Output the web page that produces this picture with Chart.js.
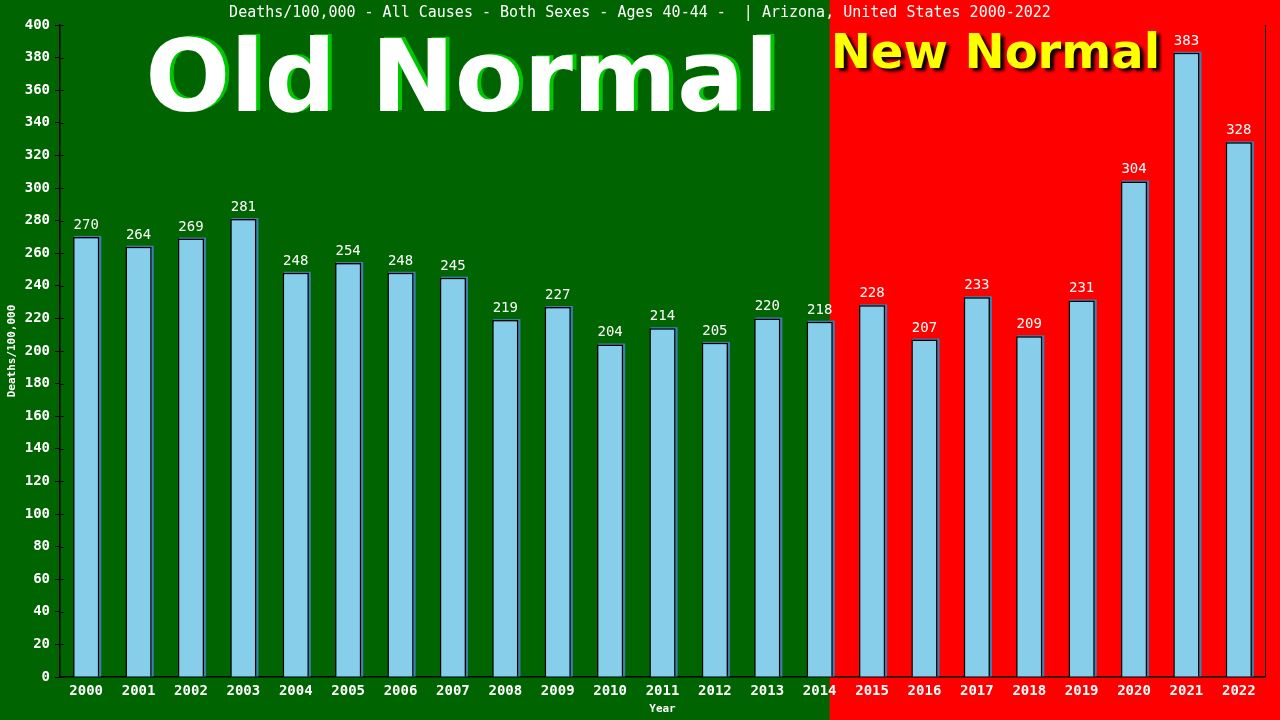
<!DOCTYPE html>
<html>
<head>
<meta charset="utf-8">
<script src="https://cdn.jsdelivr.net/npm/chart.js@4"></script>
<style>
  html, body { margin: 0; padding: 0; background: #006400; }
  #wrap { width: 1280px; height: 720px; }
</style>
</head>
<body>
<div id="wrap"><canvas id="chart" width="1280" height="720"></canvas></div>
<script>
const years = ["2000","2001","2002","2003","2004","2005","2006","2007","2008","2009","2010","2011",
  "2012","2013","2014","2015","2016","2017","2018","2019","2020","2021","2022"];
const deaths = [270,264,269,281,248,254,248,245,219,227,204,214,205,220,218,228,207,233,209,231,304,383,328];
const titleText = "Deaths/100,000 - All Causes - Both Sexes - Ages 40-44 -  | Arizona, United States 2000-2022";
const yMin = 0, yMax = 400, yStep = 20;
const newNormalFrom = 14; // index where the red zone begins (part way through 2014)

const mono = "'DejaVu Sans Mono', monospace";

const backdrop = {
  id: "backdrop",
  beforeDraw(chart) {
    const { ctx, width, height } = chart;
    const x = chart.scales.x;
    const split = x.getPixelForValue(newNormalFrom) + 10;
    ctx.save();
    ctx.fillStyle = "#006400";
    ctx.fillRect(0, 0, width, height);
    ctx.fillStyle = "#ff0000";
    ctx.fillRect(split, 0, width - split, height);

    // title
    ctx.fillStyle = "#ffffff";
    ctx.font = "15px " + mono;
    ctx.textAlign = "center";
    ctx.textBaseline = "middle";
    ctx.fillText(titleText, 640, 13);

    // Old Normal
    ctx.font = "bold 100px 'DejaVu Sans', sans-serif";
    ctx.textAlign = "center";
    ctx.textBaseline = "alphabetic";
    ctx.fillStyle = "#00c800";
    ctx.fillText("Old Normal", 466, 110);
    ctx.fillStyle = "#ffffff";
    ctx.fillText("Old Normal", 462, 111);

    // New Normal
    ctx.font = "bold 48px 'DejaVu Sans', sans-serif";
    ctx.textAlign = "left";
    ctx.shadowColor = "rgba(0,0,0,0.95)";
    ctx.shadowBlur = 3;
    ctx.shadowOffsetX = 4;
    ctx.shadowOffsetY = 3;
    ctx.fillStyle = "#ffff00";
    ctx.fillText("New Normal", split + 1, 68);
    ctx.restore();
  },
  beforeDatasetsDraw(chart) {
    // steel-blue offset edge behind each bar
    const { ctx } = chart;
    const meta = chart.getDatasetMeta(0);
    ctx.save();
    ctx.fillStyle = "#3f7fae";
    meta.data.forEach(bar => {
      const w = bar.width;
      ctx.fillRect(bar.x - w / 2 + 1, bar.y - 1, w + 1, bar.base - bar.y + 1);
    });
    ctx.restore();
  },
  afterDatasetsDraw(chart) {
    const { ctx } = chart;
    const meta = chart.getDatasetMeta(0);
    ctx.save();
    ctx.fillStyle = "#ffffff";
    ctx.font = "14px " + mono;
    ctx.textAlign = "center";
    ctx.textBaseline = "alphabetic";
    meta.data.forEach((bar, i) => {
      ctx.fillText(String(deaths[i]), bar.x, bar.y - 8);
    });
    ctx.restore();
  },
  afterDraw(chart) {
    const { ctx, chartArea } = chart;
    const y = chart.scales.y;
    ctx.save();
    ctx.strokeStyle = "#000000";
    ctx.lineWidth = 1;
    // inner half of the crossing ticks
    for (let v = yMin; v <= yMax; v += yStep) {
      const py = Math.round(y.getPixelForValue(v)) + 0.5;
      ctx.beginPath();
      ctx.moveTo(chartArea.left, py);
      ctx.lineTo(chartArea.left + 4, py);
      ctx.stroke();
    }
    // right frame line
    ctx.beginPath();
    ctx.moveTo(Math.round(chartArea.right) + 0.5, chartArea.top);
    ctx.lineTo(Math.round(chartArea.right) + 0.5, chartArea.bottom);
    ctx.stroke();
    ctx.restore();
  }
};

function init() {
  const ctx = document.getElementById("chart").getContext("2d");
  new Chart(ctx, {
    type: "bar",
    data: {
      labels: years,
      datasets: [{
        data: deaths,
        backgroundColor: "#87ceeb",
        borderColor: "#000000",
        borderWidth: { left: 1.5, top: 1.5, right: 1.5, bottom: 0 },
        borderSkipped: false,
        barPercentage: 0.5,
        categoryPercentage: 1.0
      }]
    },
    options: {
      responsive: false,
      animation: false,
      events: [],
      layout: { padding: { top: 25, right: 15, left: 0, bottom: 0 } },
      plugins: { legend: { display: false }, title: { display: false }, tooltip: { enabled: false } },
      scales: {
        x: {
          offset: true,
          grid: { display: false, drawTicks: false },
          border: { display: true, color: "#000000", width: 1.5 },
          ticks: { color: "#ffffff", font: { family: mono, size: 14, weight: "bold" }, padding: 6, maxRotation: 0, autoSkip: false },
          title: { display: true, text: "Year", color: "#ffffff", font: { family: mono, size: 11, weight: "bold" }, padding: { top: 0, bottom: 4 } },
          afterFit(scale) { scale.height = 43; }
        },
        y: {
          min: yMin,
          max: yMax,
          grid: { drawOnChartArea: false, drawTicks: true, tickLength: 5, color: "#000000" },
          border: { display: true, color: "#000000", width: 1.5 },
          ticks: { stepSize: yStep, color: "#ffffff", font: { family: mono, size: 14, weight: "bold" }, padding: 5 },
          title: { display: true, text: "Deaths/100,000", color: "#ffffff", font: { family: mono, size: 11, weight: "bold" }, padding: { top: 6, bottom: 0 } },
          afterFit(scale) { scale.width = 60; }
        }
      }
    },
    plugins: [backdrop]
  });
}

if (document.readyState === "loading") {
  document.addEventListener("DOMContentLoaded", init);
} else {
  init();
}
</script>
</body>
</html>
